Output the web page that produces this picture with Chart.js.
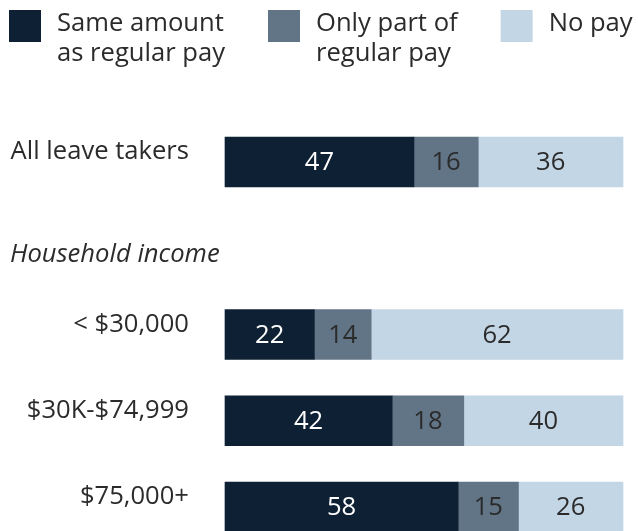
<!DOCTYPE html>
<html>
<head>
<meta charset="utf-8">
<script src="https://cdn.jsdelivr.net/npm/chart.js@4.4.1/dist/chart.umd.min.js"></script>
<style>
  html, body { margin: 0; padding: 0; background: #fff; }
  #wrap { width: 638px; height: 531px; }
</style>
</head>
<body>
<div id="wrap"><canvas id="chart" width="638" height="531"></canvas></div>
<script>
var rowLabels = ["All leave takers", "Household income", "< $30,000", "$30K-$74,999", "$75,000+"];
var samePay = [47, null, 22, 42, 58];
var partPay = [16, null, 14, 18, 15];
var noPay = [36, null, 62, 40, 26];
var seriesNames = ["Same amount\nas regular pay", "Only part of\nregular pay", "No pay"];
var seriesColors = ["#0e2033", "#627587", "#c3d6e6"];
var valueColors = ["#ffffff", "#2b2b2b", "#2b2b2b"];

var FONT = "'Open Sans', sans-serif";
var SIZE = "25.6px ";
var TEXT = "#2b2b2b";

// each row is shown as a full-width bar, so segment lengths are shares of the row total
var series = [samePay, partPay, noPay];
function shares(values) {
    return values.map(function (v, i) {
        if (v === null) return null;
        var total = samePay[i] + partPay[i] + noPay[i];
        return v / total * 100;
    });
}

var labelPlugin = {
    id: "labels",
    afterDatasetsDraw: function (chart) {
        var ctx = chart.ctx;
        var yScale = chart.scales.y;
        ctx.save();

        // values inside the segments
        ctx.font = SIZE + FONT;
        ctx.textAlign = "center";
        ctx.textBaseline = "middle";
        chart.data.datasets.forEach(function (ds, d) {
            var meta = chart.getDatasetMeta(d);
            meta.data.forEach(function (bar, i) {
                var v = series[d][i];
                if (v === null) return;
                var p = bar.getCenterPoint();
                ctx.fillStyle = valueColors[d];
                ctx.fillText(String(v), p.x, p.y + 1);
            });
        });

        // row labels
        ctx.fillStyle = TEXT;
        ctx.textBaseline = "alphabetic";
        rowLabels.forEach(function (lab, i) {
            var y = yScale.getPixelForValue(i);
            if (i === 1) {
                ctx.font = "italic " + SIZE + FONT;
                ctx.textAlign = "left";
                ctx.fillText(lab, 10, y + 14);
            } else {
                ctx.font = SIZE + FONT;
                ctx.textAlign = "right";
                ctx.fillText(lab, 189, y - 3);
            }
        });

        // legend
        ctx.font = SIZE + FONT;
        ctx.textAlign = "left";
        var x = 9;
        chart.data.datasets.forEach(function (ds) {
            ctx.fillStyle = ds.backgroundColor;
            ctx.fillRect(x, 10, 32, 32);
            ctx.fillStyle = TEXT;
            var lines = ds.label.split("\n");
            var w = 0;
            lines.forEach(function (line, k) {
                ctx.fillText(line, x + 48, 31 + k * 29.5);
                w = Math.max(w, ctx.measureText(line).width);
            });
            x += 48 + w + 43;
        });
        ctx.restore();
    }
};

new Chart(document.getElementById("chart"), {
    type: "bar",
    data: {
        labels: rowLabels,
        datasets: series.map(function (vals, d) {
            return {
                label: seriesNames[d],
                data: shares(vals),
                backgroundColor: seriesColors[d],
                borderWidth: 0,
                barThickness: 50,
                clip: false
            };
        })
    },
    options: {
        responsive: false,
        animation: false,
        indexAxis: "y",
        layout: { padding: { left: 225, right: 15, top: 162, bottom: 24 } },
        plugins: {
            legend: { display: false },
            tooltip: { enabled: false }
        },
        scales: {
            x: { stacked: true, min: 0, max: 100, display: false },
            y: { stacked: true, display: false, offset: false }
        }
    },
    plugins: [labelPlugin]
});
</script>
</body>
</html>
